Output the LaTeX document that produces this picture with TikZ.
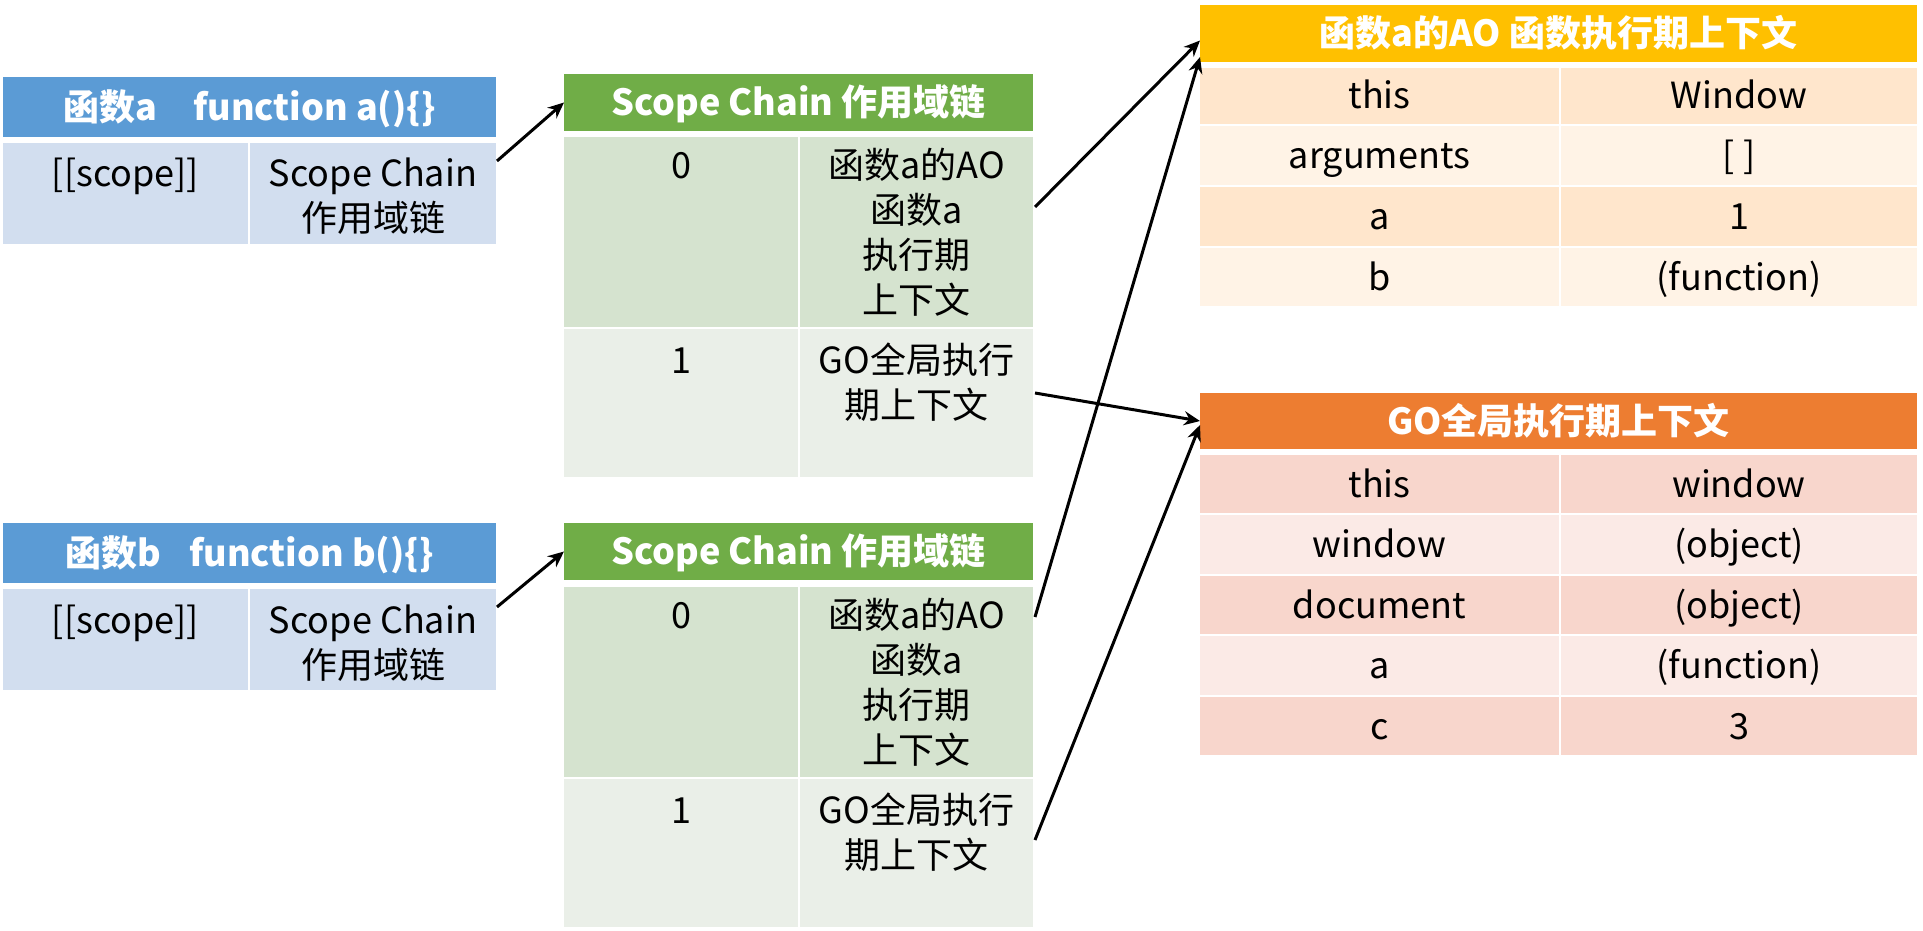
\documentclass[tikz,border=0pt]{standalone}
\usepackage{fontspec}
\setmainfont{Noto Sans CJK SC}
\usetikzlibrary{arrows.meta,calc}

\definecolor{bluehd}{HTML}{5B9BD5}
\definecolor{bluebd}{HTML}{D2DEEF}
\definecolor{greenhd}{HTML}{70AD47}
\definecolor{greenA}{HTML}{D5E3CF}
\definecolor{greenB}{HTML}{EAEFE8}
\definecolor{goldhd}{HTML}{FFC000}
\definecolor{goldA}{HTML}{FFE6CC}
\definecolor{goldB}{HTML}{FFF3E6}
\definecolor{orangehd}{HTML}{ED7D31}
\definecolor{orangeA}{HTML}{F8D6CC}
\definecolor{orangeB}{HTML}{FBEAE6}

\newcommand{\fs}{\fontsize{18pt}{22.5pt}\selectfont}

\tikzset{
  sz/.style 2 args={minimum width=#1*0.5pt, minimum height=#2*0.5pt},
  box/.style={inner sep=0pt, outer sep=0pt},
  cell/.style={box, text height=13pt, text depth=0pt, font=\fs},
  hdr/.style={cell, text=white, font=\fs\bfseries},
  toptxt/.style={anchor=north, inner sep=0pt, align=center, font=\fs},
  link/.style={-{Stealth[length=8pt,width=7pt]}, line width=1.5pt},
}

\begin{document}
\begin{tikzpicture}[x=0.5pt, y=-0.5pt]
\useasboundingbox[fill=white] (0,0) rectangle (1923,931);

% function a
\node[hdr, fill=bluehd, sz={493}{60}] (ah) at (249.5,107) {函数a\hspace{18pt}function a()\{\}};
\node[box, fill=bluebd, sz={245}{101}] (al) at (125.5,193.5) {};
\node[box, fill=bluebd, sz={246}{101}] (ar) at (373,193.5) {};
\node[toptxt] (alt) at ([yshift=-6pt]al.north) {\strut[[scope]]};
\node[toptxt] (art) at ([yshift=-6pt]ar.north) {\strut Scope Chain\\作用域链};

% function b
\node[hdr, fill=bluehd, sz={493}{60}] (bh) at (249.5,553) {函数b\hspace{14pt}function b()\{\}};
\node[box, fill=bluebd, sz={245}{101}] (bl) at (125.5,639.5) {};
\node[box, fill=bluebd, sz={246}{101}] (br) at (373,639.5) {};
\node[toptxt] (blt) at ([yshift=-6.5pt]bl.north) {\strut[[scope]]};
\node[toptxt] (brt) at ([yshift=-6.5pt]br.north) {\strut Scope Chain\\作用域链};

% scope chain of a
\node[hdr, fill=greenhd, sz={469}{57}] (s1h) at (798.5,102.5) {Scope Chain 作用域链};
\node[box, fill=greenA, sz={234}{190}] (s1a) at (681,232) {};
\node[box, fill=greenA, sz={233}{190}] (s1b) at (916.5,232) {};
\node[box, fill=greenB, sz={234}{148}] (s1c) at (681,403) {};
\node[box, fill=greenB, sz={233}{148}] (s1d) at (916.5,403) {};
\node[toptxt] (s1at) at ([yshift=-5pt]s1a.north) {\strut 0};
\node[toptxt] (s1bt) at ([yshift=-5pt]s1b.north) {\strut 函数a的AO\\函数a\\执行期\\上下文};
\node[toptxt] (s1ct) at ([yshift=-6.5pt]s1c.north) {\strut 1};
\node[toptxt] (s1dt) at ([yshift=-6.5pt]s1d.north) {\strut GO全局执行\\期上下文};

% scope chain of b
\node[hdr, fill=greenhd, sz={469}{57}] (s2h) at (798.5,551.5) {Scope Chain 作用域链};
\node[box, fill=greenA, sz={234}{190}] (s2a) at (681,682) {};
\node[box, fill=greenA, sz={233}{190}] (s2b) at (916.5,682) {};
\node[box, fill=greenB, sz={234}{148}] (s2c) at (681,853) {};
\node[box, fill=greenB, sz={233}{148}] (s2d) at (916.5,853) {};
\node[toptxt] (s2at) at ([yshift=-5pt]s2a.north) {\strut 0};
\node[toptxt] (s2bt) at ([yshift=-5pt]s2b.north) {\strut 函数a的AO\\函数a\\执行期\\上下文};
\node[toptxt] (s2ct) at ([yshift=-6.5pt]s2c.north) {\strut 1};
\node[toptxt] (s2dt) at ([yshift=-6.5pt]s2d.north) {\strut GO全局执行\\期上下文};

% activation object of a
\node[hdr, fill=goldhd, sz={717}{57}] (aoh) at (1558.5,33.5) {函数a的AO 函数执行期上下文};
\node[cell, fill=goldA, sz={359}{56}] (ao1k) at (1379.5,96) {this};
\node[cell, fill=goldA, sz={356}{56}] (ao1v) at (1739,96) {Window};
\node[cell, fill=goldB, sz={359}{59}] (ao2k) at (1379.5,155.5) {arguments};
\node[cell, fill=goldB, sz={356}{59}] (ao2v) at (1739,155.5) {[ ]};
\node[cell, fill=goldA, sz={359}{59}] (ao3k) at (1379.5,216.5) {a};
\node[cell, fill=goldA, sz={356}{59}] (ao3v) at (1739,216.5) {1};
\node[cell, fill=goldB, sz={359}{58}] (ao4k) at (1379.5,277) {b};
\node[cell, fill=goldB, sz={356}{58}] (ao4v) at (1739,277) {(function)};

% global object
\node[hdr, fill=orangehd, sz={717}{56}] (goh) at (1558.5,421) {GO全局执行期上下文};
\node[cell, fill=orangeA, sz={359}{58}] (go1k) at (1379.5,484) {this};
\node[cell, fill=orangeA, sz={356}{58}] (go1v) at (1739,484) {window};
\node[cell, fill=orangeB, sz={359}{59}] (go2k) at (1379.5,544.5) {window};
\node[cell, fill=orangeB, sz={356}{59}] (go2v) at (1739,544.5) {(object)};
\node[cell, fill=orangeA, sz={359}{58}] (go3k) at (1379.5,605) {document};
\node[cell, fill=orangeA, sz={356}{58}] (go3v) at (1739,605) {(object)};
\node[cell, fill=orangeB, sz={359}{59}] (go4k) at (1379.5,665.5) {a};
\node[cell, fill=orangeB, sz={356}{59}] (go4v) at (1739,665.5) {(function)};
\node[cell, fill=orangeA, sz={359}{58}] (go5k) at (1379.5,726) {c};
\node[cell, fill=orangeA, sz={356}{58}] (go5v) at (1739,726) {3};

% links
\draw[link] ($(ar.north east)+(1,18)$) -- (s1h.west);
\draw[link] ($(br.north east)+(1,18)$) -- (s2h.west);
\draw[link] ($(s1b.north east)+(2,70)$) -- ($(aoh.west)+(0,7)$);
\draw[link] ($(s1d.north east)+(2,64)$) -- (goh.west);
\draw[link] ($(s2b.north east)+(2,30)$) -- ($(aoh.south west)+(0,-5)$);
\draw[link] ($(s2d.north east)+(2,61)$) -- ($(goh.west)+(0,4)$);
\end{tikzpicture}
\end{document}
